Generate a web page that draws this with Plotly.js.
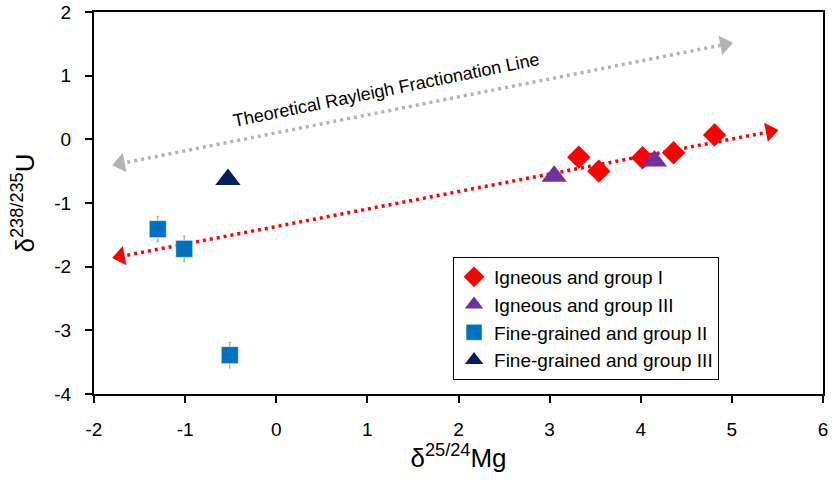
<!DOCTYPE html>
<html>
<head>
<meta charset="utf-8">
<script src="https://cdn.plot.ly/plotly-3.0.1.min.js"></script>
<style>html,body{margin:0;padding:0;background:#fff;}#chart{width:833px;height:491px;}</style>
</head>
<body>
<div id="chart"></div>
<script>
// Data
const igneousI_x = [3.32, 3.54, 4.02, 4.36, 4.81];
const igneousI_y = [-0.28, -0.50, -0.29, -0.21, 0.07];
const igneousIII_x = [3.05, 4.15];
const igneousIII_y = [-0.58, -0.34];
const fineII_x = [-1.30, -1.01, -0.51];
const fineII_y = [-1.41, -1.72, -3.39];
const fineII_err = [0.2, 0.2, 0.2];
const fineIII_x = [-0.53];
const fineIII_y = [-0.63];
// Trend line (red) and theoretical Rayleigh line (gray) endpoints
const trend_x = [-1.71, 5.42];
const trend_y = [-1.84, 0.12];
const rayleigh_x = [-1.71, 4.92];
const rayleigh_y = [-0.38, 1.49];
const xTicks = [-2, -1, 0, 1, 2, 3, 4, 5, 6];
const yTicks = [-4, -3, -2, -1, 0, 1, 2];

const FONT = 'Liberation Sans, Arial, sans-serif';

const traces = [
  {x: rayleigh_x, y: rayleigh_y, mode: 'lines+markers', showlegend: false, hoverinfo: 'skip',
   line: {color: '#b3b3b3', width: 3.5, dash: '3px,4px'},
   marker: {symbol: ['triangle-left', 'triangle-right'], size: 17, color: '#b3b3b3', angle: -11.1}},
  {x: trend_x, y: trend_y, mode: 'lines+markers', showlegend: false, hoverinfo: 'skip',
   line: {color: '#ff0000', width: 3.5, dash: '3px,4px'},
   marker: {symbol: ['triangle-left', 'triangle-right'], size: 17, color: '#ff0000', angle: -10.7}},
  {x: igneousI_x, y: igneousI_y, mode: 'markers', name: 'Igneous and group I', legendgroup: 'a',
   marker: {symbol: 'diamond', size: 18, color: '#ff0000'}},
  {x: igneousIII_x, y: igneousIII_y, mode: 'markers', name: 'Igneous and group III', legendgroup: 'b',
   marker: {symbol: 'triangle-up', size: 22, color: '#7030a0'}},
  {x: fineII_x, y: fineII_y, mode: 'markers', name: 'Fine-grained and group II', legendgroup: 'c',
   error_y: {type: 'data', array: fineII_err, visible: true, color: '#999999', thickness: 1, width: 1},
   marker: {symbol: 'square', size: 17, color: '#0070c0', line: {color: '#ffffff', width: 0.5}}},
  {x: fineIII_x, y: fineIII_y, mode: 'markers', name: 'Fine-grained and group III', legendgroup: 'd',
   marker: {symbol: 'triangle-up', size: 22, color: '#002060'}}
];

const layout = {
  width: 833, height: 491,
  margin: {l: 94, r: 10, t: 12, b: 97},
  paper_bgcolor: '#ffffff', plot_bgcolor: '#ffffff',
  font: {family: FONT, color: '#000000', size: 18},
  xaxis: {range: [-2, 6], tickvals: xTicks, ticktext: xTicks.map(String), showgrid: false, zeroline: false,
    showline: true, linecolor: '#000', linewidth: 2, mirror: true, ticks: 'outside', ticklen: 7, tickwidth: 2,
    tickcolor: '#000', ticklabelstandoff: 10, tickfont: {family: FONT, size: 19},
    title: {text: 'δ<sup>25/24</sup>Mg', font: {family: FONT, size: 26}, standoff: 6}},
  yaxis: {range: [-4, 2], tickvals: yTicks, ticktext: yTicks.map(String), showgrid: false, zeroline: false,
    showline: true, linecolor: '#000', linewidth: 2, mirror: true, ticks: 'outside', ticklen: 7, tickwidth: 2,
    tickcolor: '#000', ticklabelstandoff: 10, tickfont: {family: FONT, size: 19},
    title: {text: 'δ<sup>238/235</sup>U', font: {family: FONT, size: 26}, standoff: 12}},
  legend: {x: 0.4925, y: 0.3586, xanchor: 'left', yanchor: 'top', bordercolor: '#000', borderwidth: 1,
    bgcolor: '#ffffff', font: {family: FONT, size: 19}, traceorder: 'grouped', tracegroupgap: 0},
  annotations: [{x: 1.2, y: 0.78, xref: 'x', yref: 'y', text: 'Theoretical Rayleigh Fractionation Line',
    showarrow: false, textangle: -11.5, font: {family: FONT, size: 18, color: '#000'}}]
};

Plotly.newPlot('chart', traces, layout, {displayModeBar: false, staticPlot: true});
</script>
</body>
</html>
